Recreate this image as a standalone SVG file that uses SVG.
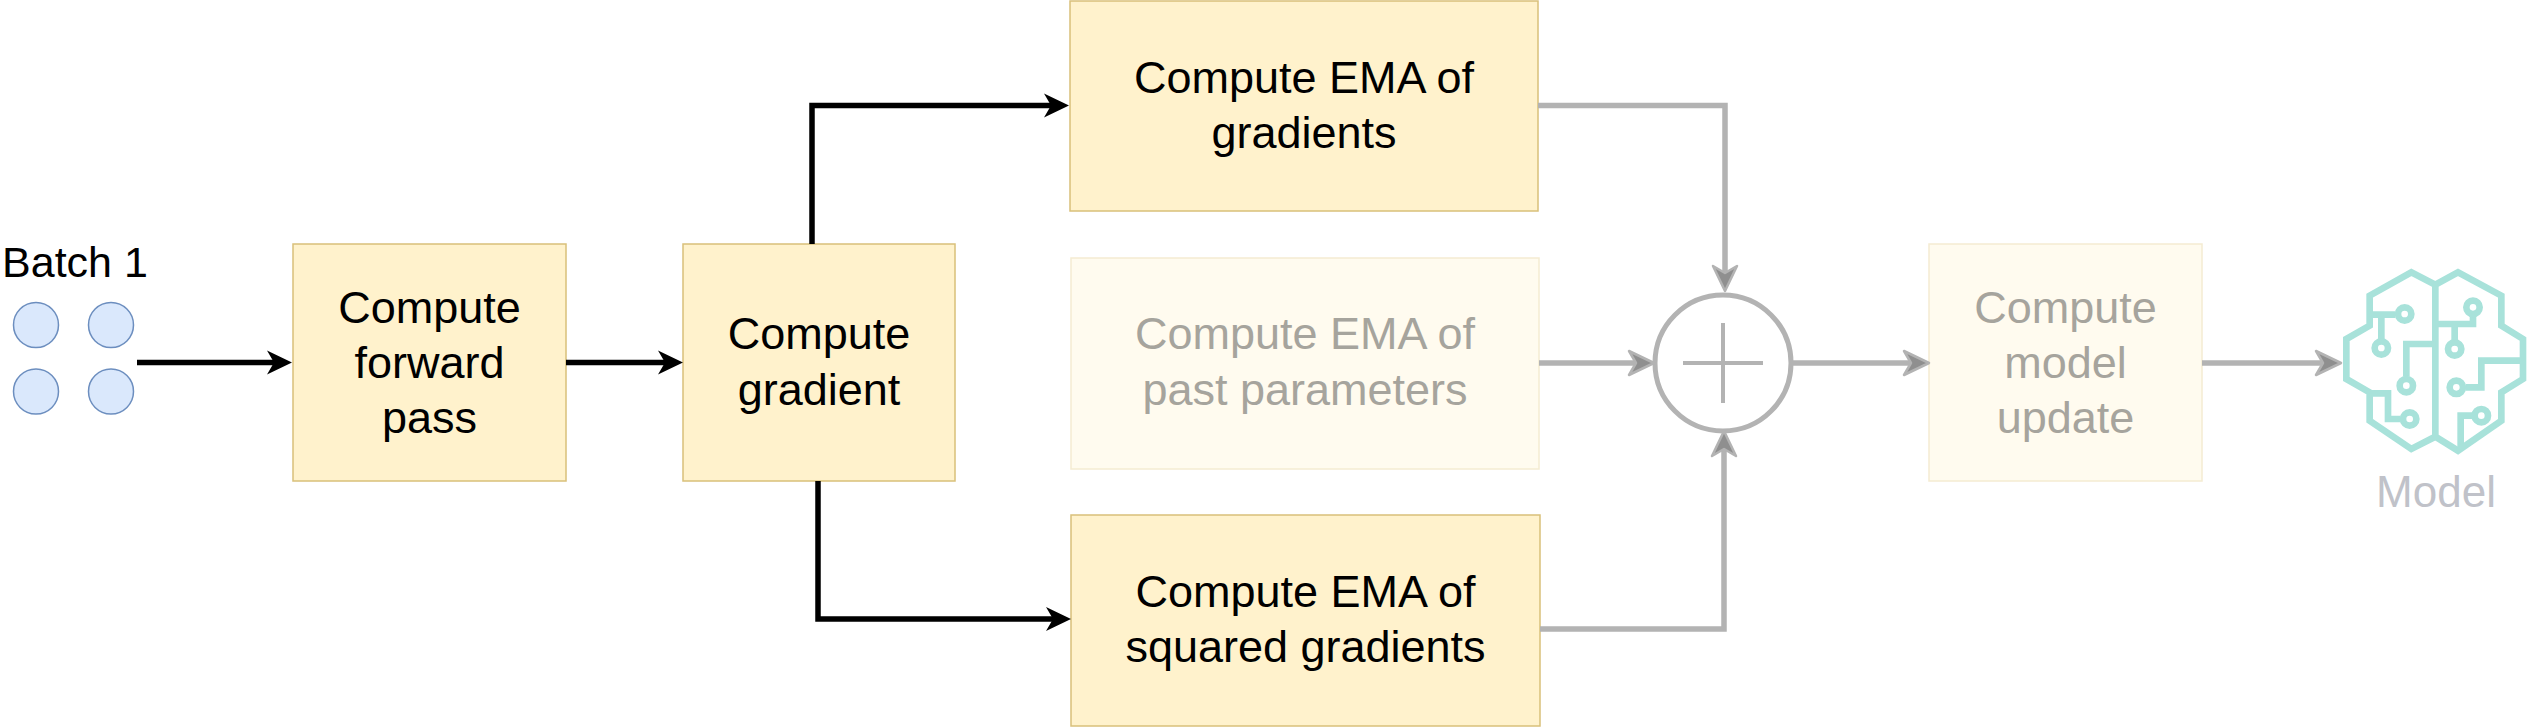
<svg xmlns="http://www.w3.org/2000/svg" width="2530" height="727" viewBox="0 0 2530 727">
<style>
.box{fill:#fff2cc;stroke:#d9c07a;stroke-width:1.5}
.fbox{fill:#fffbef;stroke:#f5ecd2;stroke-width:1.5}
.t{font-family:"Liberation Sans",Arial,Helvetica,sans-serif;font-size:45px;text-anchor:middle;fill:#000}
.ft{fill:#a6a49d}
.blk{fill:none;stroke:#000;stroke-width:5.5}
.gry{fill:none;stroke:#b3b3b3;stroke-width:5.5}
.dot{fill:#dae8fc;stroke:#6c8ebf;stroke-width:1.5}
.brain{fill:none;stroke:#a8e2da;stroke-width:20;stroke-linejoin:miter}
</style>
<defs>
<marker id="ab" markerUnits="userSpaceOnUse" viewBox="-2 -14 30 28" markerWidth="30" markerHeight="28" refX="7" refY="0" orient="auto">
<path d="M0,-12 L25,0 L0,12 L7,0 Z" fill="#000"/>
</marker>
<marker id="ag" markerUnits="userSpaceOnUse" viewBox="-3 -15 32 30" markerWidth="32" markerHeight="30" refX="7" refY="0" orient="auto">
<path d="M0,-12 L25,0 L0,12 L7,0 Z" fill="#8f8f8f" stroke="#b3b3b3" stroke-width="2.5" stroke-linejoin="round"/>
</marker>
</defs>

<g id="batch">
<text class="t" x="75" y="277" style="font-size:43px">Batch 1</text>
<circle class="dot" cx="36" cy="325" r="22.5"/>
<circle class="dot" cx="111" cy="325" r="22.5"/>
<circle class="dot" cx="36" cy="391.5" r="22.5"/>
<circle class="dot" cx="111" cy="391.5" r="22.5"/>
</g>

<g id="forward">
<rect class="box" x="293" y="244" width="273" height="237"/>
<text class="t" x="429.5" y="322.5">Compute</text>
<text class="t" x="429.5" y="377.5">forward</text>
<text class="t" x="429.5" y="432.5">pass</text>
</g>

<g id="gradient">
<rect class="box" x="683" y="244" width="272" height="237"/>
<text class="t" x="819" y="349">Compute</text>
<text class="t" x="819" y="405">gradient</text>
</g>

<g id="ema-grad">
<rect class="box" x="1070" y="1" width="468" height="210"/>
<text class="t" x="1304" y="93">Compute EMA of</text>
<text class="t" x="1304" y="148">gradients</text>
</g>

<g id="ema-past">
<rect class="fbox" x="1071" y="258" width="468" height="211"/>
<text class="t ft" x="1305" y="349">Compute EMA of</text>
<text class="t ft" x="1305" y="405">past parameters</text>
</g>

<g id="ema-sq">
<rect class="box" x="1071" y="515" width="469" height="211"/>
<text class="t" x="1305.5" y="607">Compute EMA of</text>
<text class="t" x="1305.5" y="662">squared gradients</text>
</g>

<g id="sum">
<circle cx="1723" cy="363" r="68" fill="#fff" stroke="#b3b3b3" stroke-width="5"/>
<path d="M1683,363 H1763 M1723,323 V403" stroke="#b3b3b3" stroke-width="4" fill="none"/>
</g>

<g id="update">
<rect class="fbox" x="1929" y="244" width="273" height="237"/>
<text class="t ft" x="2065.5" y="322.5">Compute</text>
<text class="t ft" x="2065.5" y="377.5">model</text>
<text class="t ft" x="2065.5" y="432.5">update</text>
</g>

<g id="model">
<g transform="translate(2338,264) scale(0.33333)">
<path class="brain" d="M292,62 L220,25 L95,95 L95,185 L25,225 L25,345 L95,385 L95,470 L220,555 L292,518 L360,560 L490,470 L490,385 L555,345 L555,225 L490,185 L490,95 L360,25 Z M292,62 V518"/>
<path class="brain" d="M95,152 H172 M130,152 V226 M292,240 H205 V338 M95,388 H150 V465 H188 M405,158 V180 H292 M350,180 V228 M383,370 H430 V290 H555 M404,455 H368 V550"/>
<circle class="brain" cx="200" cy="150" r="20"/>
<circle class="brain" cx="130" cy="252" r="20"/>
<circle class="brain" cx="205" cy="365" r="20"/>
<circle class="brain" cx="215" cy="465" r="20"/>
<circle class="brain" cx="405" cy="130" r="20"/>
<circle class="brain" cx="350" cy="255" r="20"/>
<circle class="brain" cx="355" cy="370" r="20"/>
<circle class="brain" cx="430" cy="455" r="20"/>
</g>
<text class="t" x="2436" y="507" style="font-size:44px;fill:#c0c2c9">Model</text>
</g>

<g id="connectors">
<path class="blk" d="M137,362.5 H274" marker-end="url(#ab)"/>
<path class="blk" d="M566,362.5 H665" marker-end="url(#ab)"/>
<path class="blk" d="M812,244 V105.5 H1051" marker-end="url(#ab)"/>
<path class="blk" d="M818,481 V619 H1053" marker-end="url(#ab)"/>
<path class="gry" d="M1538,105.5 H1725 V273" marker-end="url(#ag)"/>
<path class="gry" d="M1539,363 H1636" marker-end="url(#ag)"/>
<path class="gry" d="M1540,629 H1724 V449" marker-end="url(#ag)"/>
<path class="gry" d="M1791,363 H1911" marker-end="url(#ag)"/>
<path class="gry" d="M2202,363 H2323" marker-end="url(#ag)"/>
</g>
</svg>
